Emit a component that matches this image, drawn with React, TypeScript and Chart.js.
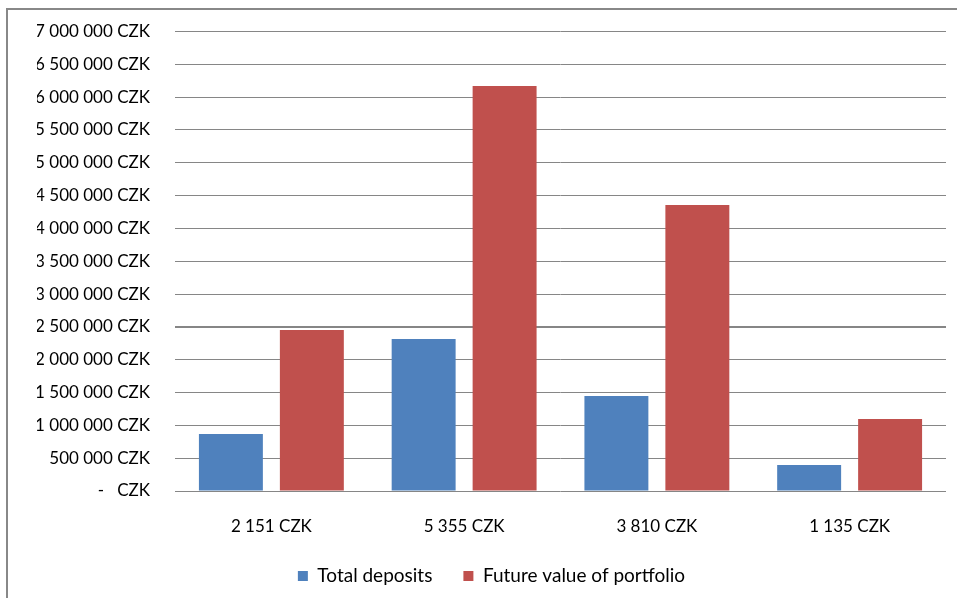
import React, { useEffect, useRef } from "react";
import { Chart, registerables } from "chart.js";

Chart.register(...registerables);

const categories = ["2 151 CZK", "5 355 CZK", "3 810 CZK", "1 135 CZK"];
const totalDeposits = [868000, 2315000, 1447000, 396000];
const futureValue = [2452000, 6168000, 4356000, 1097000];
const seriesNames = ["Total deposits", "Future value of portfolio"];
const yMin = 0;
const yMax = 7000000;
const yStep = 500000;

const FONT = "Lato, 'Open Sans', sans-serif";

function fmt(v: number): string {
  if (v === 0) return "-   CZK";
  return String(v).replace(/\B(?=(\d{3})+(?!\d))/g, " ") + " CZK";
}

export default function App() {
  const ref = useRef<HTMLCanvasElement | null>(null);

  useEffect(() => {
    const canvas = ref.current;
    if (!canvas) return;
    const chart = new Chart(canvas, {
      type: "bar",
      data: {
        labels: categories,
        datasets: [
          {
            label: seriesNames[0],
            data: totalDeposits,
            backgroundColor: "#4F81BD",
            borderWidth: 0,
          },
          {
            label: seriesNames[1],
            data: futureValue,
            backgroundColor: "#C0504D",
            borderWidth: 0,
          },
        ],
      },
      options: {
        responsive: false,
        animation: false,
        devicePixelRatio: 1,
        datasets: {
          bar: { categoryPercentage: 0.84, barPercentage: 0.79 },
        },
        layout: { padding: { left: 37, right: 11, top: 31.4, bottom: 2.5 } },
        plugins: {
          tooltip: { enabled: false },
          legend: {
            position: "bottom",
            labels: {
              boxWidth: 10,
              boxHeight: 10,
              padding: 31,
              color: "#000",
              font: { family: FONT, size: 19 },
            },
          },
        },
        scales: {
          x: {
            grid: { display: false, drawTicks: false },
            border: { display: false },
            ticks: {
              padding: 25,
              color: "#000",
              font: { family: FONT, size: 17 },
              maxRotation: 0,
            },
            afterFit: (s: any) => {
              s.height = 44.5;
            },
          },
          y: {
            min: yMin,
            max: yMax,
            grid: {
              color: "#868686",
              lineWidth: (ctx: any) =>
                ctx.tick && ctx.tick.value === 2500000 ? 2 : 1,
              drawTicks: true,
              tickLength: 5,
              tickColor: "rgba(0,0,0,0)",
            },
            border: { display: false },
            ticks: {
              stepSize: yStep,
              padding: 20,
              color: "#000",
              font: { family: FONT, size: 17 },
              callback: (v: any) => fmt(Number(v)),
            },
            afterFit: (s: any) => {
              s.width = 138;
            },
          },
        },
      },
    });
    return () => chart.destroy();
  }, []);

  return (
    <div
      style={{
        position: "fixed",
        left: 0,
        top: 0,
        width: 957,
        height: 598,
        background: "#fff",
        overflow: "hidden",
      }}
    >
      <div
        style={{
          position: "absolute",
          left: 6,
          top: 8,
          right: -4,
          bottom: -4,
          borderLeft: "2px solid #888",
          borderTop: "2px solid #888",
        }}
      />
      <canvas
        ref={ref}
        width={957}
        height={598}
        style={{ position: "absolute", left: 0, top: 0, width: 957, height: 598 }}
      />
    </div>
  );
}
